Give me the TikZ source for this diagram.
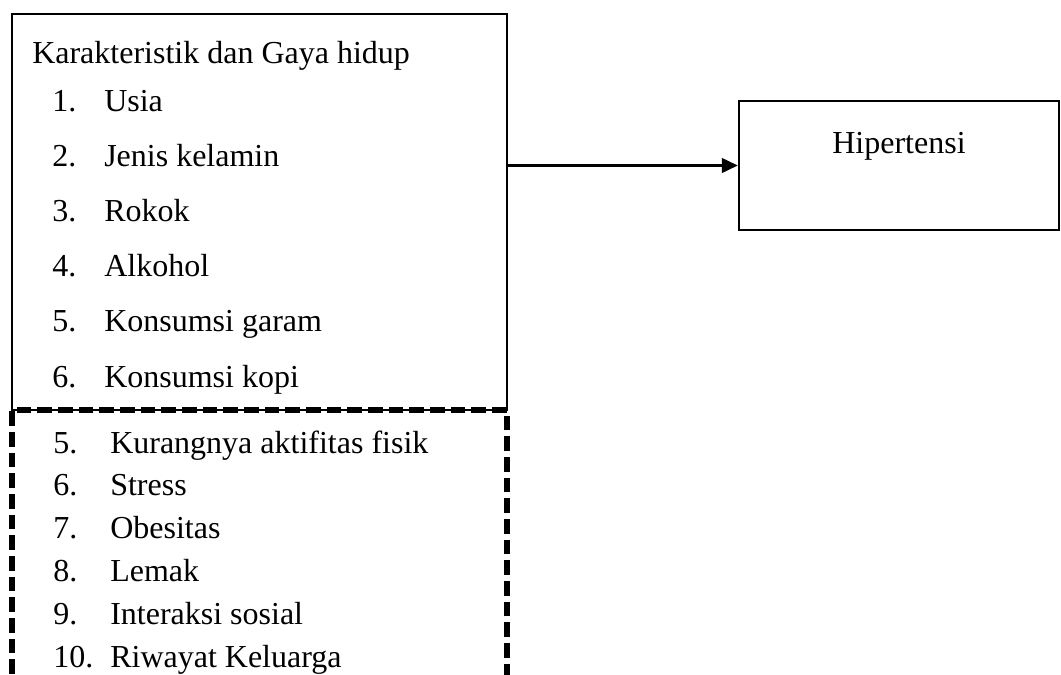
\documentclass[tikz,border=0pt]{standalone}
\usepackage{fontspec}
\setmainfont{Liberation Serif}
\usetikzlibrary{arrows.meta}
\begin{document}
\begin{tikzpicture}
  [x=0.75pt,y=-0.75pt,
   every node/.style={inner sep=0pt,font=\fontsize{24}{28}\selectfont},
   item/.style={anchor=base west},
   box/.style={draw,line width=1.8pt}]
  \clip (0,0) rectangle (1061,675);

  % boxes
  \node[box,minimum width=371.25pt,minimum height=297pt] (faktor) at (259.5,212) {};
  \node[draw,line width=4pt,dash pattern=on 11pt off 4.5pt,
        minimum width=371.25pt,minimum height=217.5pt] (lain) at (259.5,555) {};
  \node[box,minimum width=240pt,minimum height=96.75pt] (hiper) at (899,165.5) {};
  \node[anchor=base] (hiperlabel) at (899,153) {Hipertensi};

  % texts
  \node[item] (judul) at (32,63) {Karakteristik dan Gaya hidup};
  \foreach \i/\txt in {1/Usia,2/Jenis kelamin,3/Rokok,4/Alkohol,
  5/Konsumsi garam,6/Konsumsi kopi}
  {
    \node[item] (num\i) at (52,{111+55.2*(\i-1)}) {\i.};
    \node[item] (txt\i) at (104,{111+55.2*(\i-1)}) {\txt};
  }
  \foreach \i/\n/\txt in {0/5/Kurangnya aktifitas fisik,1/6/Stress,2/7/Obesitas,
  3/8/Lemak,4/9/Interaksi sosial,5/10/Riwayat Keluarga}
  {
    \node[item] (lnum\i) at (53,{453+42.8*\i}) {\n.};
    \node[item] (ltxt\i) at (110,{453+42.8*\i}) {\txt};
  }

  \draw[line width=1.8pt,-{Triangle[length=12pt,width=11pt]}]
    (faktor.east |- hiper.west) -- (hiper.west);
\end{tikzpicture}
\end{document}
